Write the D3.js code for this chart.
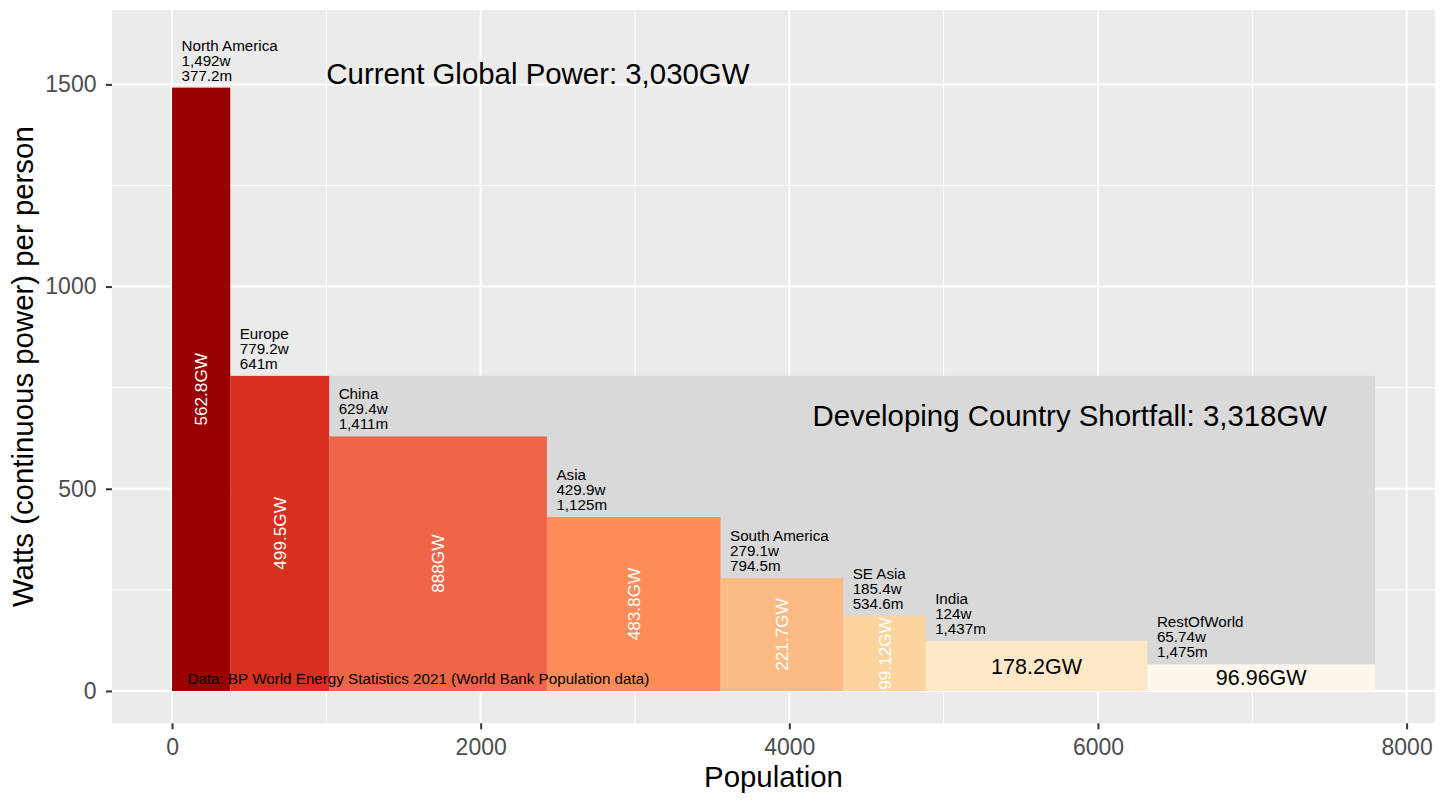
<!DOCTYPE html>
<html>
<head>
<meta charset="utf-8">
<script src="https://cdn.jsdelivr.net/npm/d3@7"></script>
<style>
  html, body { margin: 0; padding: 0; background: #ffffff; }
  svg { display: block; font-family: "Liberation Sans", Arial, Helvetica, sans-serif; }
</style>
</head>
<body>
<svg id="chart" width="1456" height="801"></svg>
<script>
// ---- data ----
const regions = ["North America", "Europe", "China", "Asia", "South America", "SE Asia", "India", "RestOfWorld"];
const wattsPerPerson = [1492, 779.2, 629.4, 429.9, 279.1, 185.4, 124, 65.74];
const populationM = [377.2, 641, 1411, 1125, 794.5, 534.6, 1437, 1475];
const gigawatts = [562.8, 499.5, 888, 483.8, 221.7, 99.12, 178.2, 96.96];
const regionColors = ["#990000", "#d7301f", "#ef6548", "#fc8d59", "#fdbb84", "#fdd49e", "#fee8c8", "#fff7ec"];
const xTicks = [0, 2000, 4000, 6000, 8000];
const xMinor = [1000, 3000, 5000, 7000];
const yTicks = [0, 500, 1000, 1500];
const yMinor = [250, 750, 1250];
const titleGlobal = "Current Global Power: 3,030GW";
const titleShortfall = "Developing Country Shortfall: 3,318GW";
const sourceNote = "Data: BP World Energy Statistics 2021 (World Bank Population data)";
const xTitle = "Population";
const yTitle = "Watts (continuous power) per person";

// ---- derived ----
let cum = 0;
const bars = regions.map((r, i) => {
  const d = { region: r, w: wattsPerPerson[i], pop: populationM[i], gw: gigawatts[i], color: regionColors[i], x0: cum, x1: cum + populationM[i] };
  cum += populationM[i];
  return d;
});
const totalPop = cum;
const shortStart = bars[2].x0;
const shortLevel = bars[1].w;

// ---- layout ----
const svg = d3.select("#chart");
const P = { left: 112, right: 1435, top: 10, bottom: 723.3 };
const x = d3.scaleLinear().domain([-389, 8184]).range([P.left, P.right]);
const y = d3.scaleLinear().domain([-80, 1684]).range([P.bottom, P.top]);

svg.append("rect").attr("x", P.left).attr("y", P.top)
  .attr("width", P.right - P.left).attr("height", P.bottom - P.top).attr("fill", "#ebebeb");

const grid = svg.append("g");
grid.selectAll(".xmin").data(xMinor).join("line")
  .attr("x1", d => x(d)).attr("x2", d => x(d)).attr("y1", P.top).attr("y2", P.bottom)
  .attr("stroke", "#fff").attr("stroke-width", 1);
grid.selectAll(".ymin").data(yMinor).join("line")
  .attr("y1", d => y(d)).attr("y2", d => y(d)).attr("x1", P.left).attr("x2", P.right)
  .attr("stroke", "#fff").attr("stroke-width", 1);
grid.selectAll(".xmaj").data(xTicks).join("line")
  .attr("x1", d => x(d)).attr("x2", d => x(d)).attr("y1", P.top).attr("y2", P.bottom)
  .attr("stroke", "#fff").attr("stroke-width", 2);
grid.selectAll(".ymaj").data(yTicks).join("line")
  .attr("y1", d => y(d)).attr("y2", d => y(d)).attr("x1", P.left).attr("x2", P.right)
  .attr("stroke", "#fff").attr("stroke-width", 2);

// shortfall rect
svg.append("rect")
  .attr("x", x(shortStart)).attr("y", y(shortLevel))
  .attr("width", x(totalPop) - x(shortStart)).attr("height", y(0) - y(shortLevel))
  .attr("fill", "#d9d9d9");

// bars
svg.append("g").selectAll("rect").data(bars).join("rect")
  .attr("x", d => x(d.x0)).attr("y", d => y(d.w))
  .attr("width", d => x(d.x1) - x(d.x0)).attr("height", d => y(0) - y(d.w))
  .attr("fill", d => d.color);

// region labels
const fmt = d3.format(",.4~r");
const lab = svg.append("g").attr("font-size", "15.2px").attr("fill", "#000");
bars.forEach(d => {
  const t = lab.append("text").attr("x", x(d.x0) + 9.5).attr("y", y(d.w) - 7 - 30);
  [d.region, fmt(d.w) + "w", fmt(d.pop) + "m"].forEach((s, k) => {
    t.append("tspan").attr("x", x(d.x0) + 9.5).attr("dy", k === 0 ? 0 : 15).text(s);
  });
});

// GW labels
const gwG = svg.append("g");
bars.forEach(d => {
  const cx = (x(d.x0) + x(d.x1)) / 2;
  const cy = y(d.w / 2);
  const horiz = d.w < 150;
  gwG.append("text")
    .attr("transform", horiz ? `translate(${cx},${cy})` : `translate(${cx},${cy}) rotate(-90)`)
    .attr("text-anchor", "middle").attr("dy", "0.36em")
    .attr("font-size", horiz ? "21.5px" : "17.2px")
    .attr("fill", horiz ? "#000" : "#fff")
    .text(fmt(d.gw) + "GW");
});

// annotations
svg.append("text").attr("x", x(1000)).attr("y", y(1500)).attr("font-size", "29.4px").attr("fill", "#000").text(titleGlobal);
svg.append("text").attr("x", x(4150)).attr("y", y(656)).attr("font-size", "29.4px").attr("fill", "#000").text(titleShortfall);
svg.append("text").attr("x", x(100)).attr("y", y(17)).attr("font-size", "15.2px").attr("fill", "#000").text(sourceNote);

// axes
const xa = svg.append("g").attr("transform", `translate(0,${P.bottom})`)
  .call(d3.axisBottom(x).tickValues(xTicks).tickSize(6).tickPadding(9).tickFormat(d3.format("d")));
const ya = svg.append("g").attr("transform", `translate(${P.left},0)`)
  .call(d3.axisLeft(y).tickValues(yTicks).tickSize(6).tickPadding(9.5).tickFormat(d3.format("d")));
[xa, ya].forEach(a => {
  a.select(".domain").remove();
  a.selectAll(".tick line").attr("stroke", "#333").attr("stroke-width", 2);
  a.selectAll(".tick text").attr("fill", "#4d4d4d").attr("font-size", "23px")
    .attr("font-family", "Liberation Sans, Arial, sans-serif");
});

svg.append("text").attr("x", (P.left + P.right) / 2).attr("y", 786.7)
  .attr("text-anchor", "middle").attr("font-size", "29.4px").attr("fill", "#000").text(xTitle);
svg.append("text").attr("transform", `translate(33,${(P.top + P.bottom) / 2}) rotate(-90)`)
  .attr("text-anchor", "middle").attr("font-size", "29.4px").attr("fill", "#000").text(yTitle);
</script>
</body>
</html>
